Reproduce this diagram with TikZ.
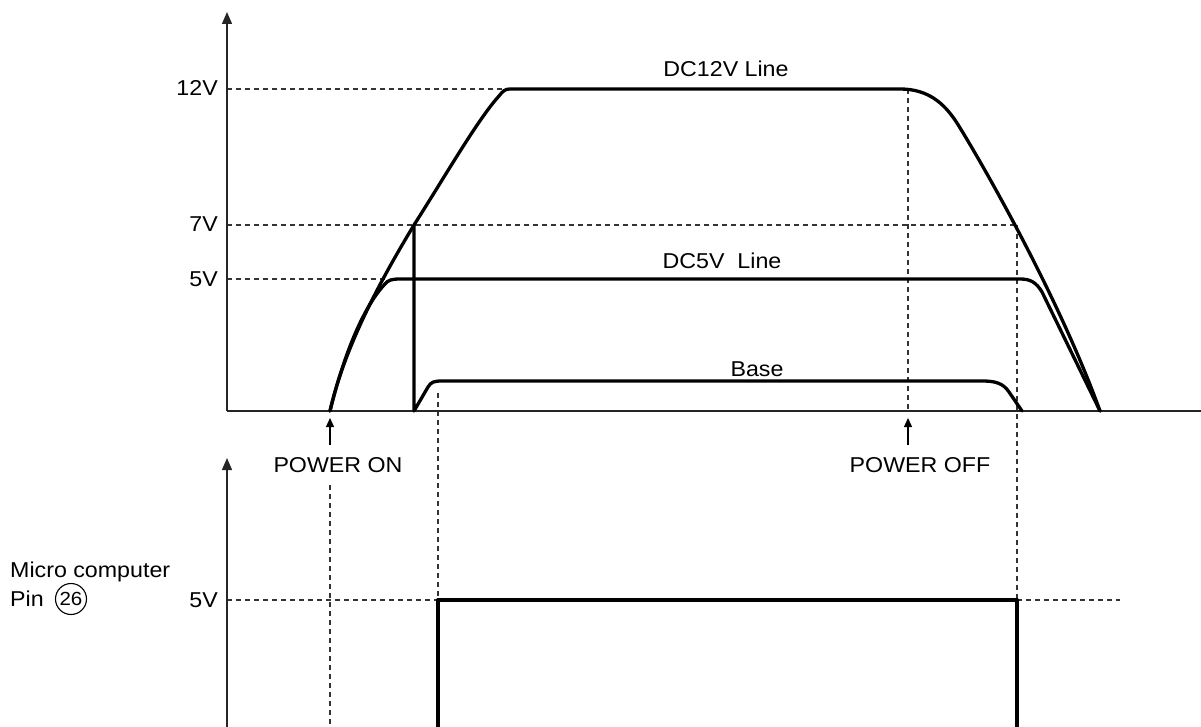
\documentclass[tikz,border=0pt]{standalone}
\usepackage{fontspec}
\setmainfont{Liberation Sans}[FakeStretch=1.08]
\usetikzlibrary{arrows.meta}
\begin{document}
\begin{tikzpicture}[x=1pt,y=-1pt,
  axisline/.style={line width=1.4pt,draw=black!85},
  guide/.style={line width=1.1pt,draw=black!80,dash pattern=on 5pt off 4pt},
  curve/.style={line width=3.3pt,line join=round,line cap=round},
  lbl/.style={inner sep=0pt,font=\fontsize{21.5}{25}\selectfont},
  bigtip/.style={-{Triangle[length=12pt,width=10pt]}},
  smalltip/.style={-{Triangle[length=9pt,width=8pt]}}]
\useasboundingbox (0,0) rectangle (1201,727);

% coordinates
\coordinate (o) at (227,411);
\coordinate (ytop) at (227,12);
\coordinate (xend) at (1201,411);
\coordinate (lbot) at (227,727);
\coordinate (ltop) at (227,458);
\coordinate (on) at (330,411);
\coordinate (p7) at (414,225);
\coordinate (p12a) at (510,89);
\coordinate (p12b) at (900,89);
\coordinate (off) at (1100,411);
\coordinate (b0) at (414,411);
\coordinate (bend) at (1022,411);

% guides
\draw[guide] (227,89) -- (505,89);
\draw[guide] (227,225) -- (1017,225);
\draw[guide] (227,279) -- (388,279);
\draw[guide] (908,89) -- (908,411);
\draw[guide] (1017,225) -- (1017,600);
\draw[guide] (438,393) -- (438,600);
\draw[guide] (330,485) -- (330,727);
\draw[guide] (227,600) -- (438,600);
\draw[guide] (1017,600) -- (1120,600);

% axes
\draw[axisline] (o) -- (xend);
\draw[axisline,bigtip] (o) -- (ytop);
\draw[axisline,bigtip] (lbot) -- (ltop);

% DC12V line
\draw[curve] (on) .. controls (345,345) and (382,278) .. (p7)
  .. controls (444,178) and (478,119) .. (499,96)
  .. controls (503,91) and (505,89) .. (p12a) -- (p12b)
  .. controls (928,89) and (944,103) .. (957,123)
  .. controls (985,168) and (1060,300) .. (off);

% DC5V line
\draw[curve] (on) .. controls (345,350) and (365,305) .. (385,284)
  .. controls (388,280) and (392,279) .. (400,279) -- (1020,279)
  .. controls (1030,279) and (1036,282) .. (1042,292) -- (off);

% Base
\draw[curve] (p7) -- (b0) -- (428,387)
  .. controls (431,382) and (434,381) .. (442,381) -- (982,381)
  .. controls (995,381) and (1003,383) .. (1009,392) -- (bend);

% micro computer pin pulse
\draw[curve,line cap=butt] (438,727) -- (438,600) -- (1017,600) -- (1017,727);

% power arrows
\coordinate (onT) at (330,445);
\coordinate (offT) at (908,445);
\draw[line width=1.3pt,smalltip] (onT) -- (330,418);
\draw[line width=1.3pt,smalltip] (offT) -- (908,418);

% labels
\node[lbl,anchor=base east] (l12) at (218,96) {12V};
\node[lbl,anchor=base east] (l7) at (218,232) {7V};
\node[lbl,anchor=base east] (l5) at (218,286) {5V};
\node[lbl,anchor=base east] (l5b) at (218,607) {5V};
\node[lbl,anchor=base] (t12) at (726,77) {DC12V Line};
\node[lbl,anchor=base] (t5) at (722,269) {DC5V\ \ Line};
\node[lbl,anchor=base] (tb) at (757,376) {Base};
\node[lbl,anchor=base] (ton) at (338,472) {POWER ON};
\node[lbl,anchor=base] (toff) at (920,472) {POWER OFF};
\node[lbl,anchor=base west] (tm) at (10,577) {Micro computer};
\node[lbl,anchor=base west] (tp) at (10,606) {Pin};
\node[circle,draw,line width=1.1pt,inner sep=0pt,minimum size=31pt,
  font=\fontsize{19}{22}\selectfont] (c26) at (71,599) {26};
\end{tikzpicture}
\end{document}
